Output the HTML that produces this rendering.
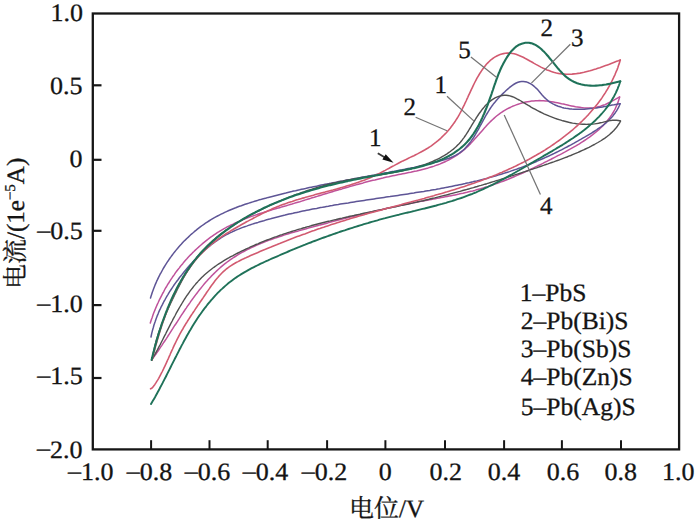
<!DOCTYPE html><html><head><meta charset="utf-8"><style>html,body{margin:0;padding:0;background:#fff;}svg{display:block;}text{font-family:"Liberation Serif",serif;fill:#141414;stroke:#141414;stroke-width:0.30px;text-rendering:geometricPrecision;}.cjk{font-family:"Liberation Serif","Noto Serif CJK SC",serif;}</style></head><body>
<svg width="700" height="524" viewBox="0 0 700 524">
<rect width="700" height="524" fill="#fff"/>
<path d="M150.3,323.0 L150.9,321.1 L151.5,319.2 L152.2,317.4 L152.8,315.5 L153.5,313.6 L154.2,311.8 L155.0,309.9 L155.7,308.1 L156.5,306.2 L157.3,304.4 L158.2,302.5 L159.0,300.7 L159.9,298.9 L160.8,297.1 L161.7,295.3 L162.6,293.5 L163.6,291.8 L164.5,290.0 L165.5,288.2 L166.6,286.5 L167.6,284.7 L168.7,283.0 L169.7,281.3 L170.8,279.6 L172.0,277.9 L173.1,276.2 L174.3,274.6 L175.4,272.9 L176.6,271.3 L177.8,269.7 L179.1,268.1 L180.3,266.5 L181.6,264.9 L182.9,263.4 L184.2,261.8 L185.5,260.3 L186.9,258.8 L188.2,257.3 L189.6,255.8 L191.0,254.4 L192.4,252.9 L193.9,251.5 L195.3,250.1 L196.8,248.7 L198.3,247.4 L199.8,246.0 L201.3,244.7 L202.8,243.4 L204.4,242.1 L205.9,240.9 L207.5,239.6 L209.1,238.4 L210.7,237.2 L212.3,236.1 L214.0,234.9 L215.6,233.8 L217.3,232.7 L219.0,231.7 L220.7,230.6 L222.4,229.6 L224.1,228.6 L225.9,227.7 L227.6,226.7 L229.4,225.8 L231.2,224.9 L233.0,224.1 L234.8,223.2 L236.6,222.4 L238.4,221.6 L240.3,220.8 L242.1,220.0 L244.0,219.3 L245.8,218.5 L247.7,217.8 L249.6,217.1 L251.5,216.4 L253.4,215.8 L255.3,215.1 L257.2,214.5 L259.1,213.8 L261.0,213.2 L263.0,212.6 L264.9,212.0 L266.8,211.4 L268.8,210.8 L270.7,210.2 L272.6,209.6 L274.6,209.1 L276.5,208.5 L278.5,207.9 L280.4,207.4 L282.4,206.8 L284.3,206.2 L286.2,205.7 L288.2,205.1 L290.1,204.5 L292.1,204.0 L294.0,203.4 L295.9,202.8 L297.8,202.2 L299.8,201.7 L301.7,201.1 L303.6,200.5 L305.5,199.9 L307.5,199.3 L309.4,198.7 L311.3,198.1 L313.2,197.6 L315.1,197.0 L317.1,196.4 L319.0,195.8 L320.9,195.2 L322.8,194.6 L324.7,194.0 L326.6,193.5 L328.6,192.9 L330.5,192.3 L332.4,191.7 L334.3,191.1 L336.2,190.6 L338.1,190.0 L340.0,189.4 L342.0,188.9 L343.9,188.3 L345.8,187.7 L347.7,187.2 L349.7,186.6 L351.6,186.1 L353.5,185.5 L355.4,185.0 L357.4,184.4 L359.3,183.9 L361.2,183.4 L363.2,182.9 L365.1,182.3 L367.1,181.8 L369.0,181.3 L371.0,180.8 L372.9,180.3 L374.9,179.9 L376.8,179.4 L378.8,178.9 L380.8,178.4 L382.8,178.0 L384.7,177.5 L386.7,177.1 L388.7,176.7 L390.7,176.2 L392.7,175.8 L394.7,175.4 L396.7,175.0 L398.7,174.6 L400.7,174.2 L402.7,173.8 L404.7,173.4 L406.7,173.0 L408.7,172.6 L410.7,172.2 L412.7,171.7 L414.7,171.3 L416.6,170.9 L418.6,170.4 L420.6,169.9 L422.5,169.4 L424.5,168.9 L426.4,168.4 L428.3,167.9 L430.3,167.3 L432.2,166.7 L434.1,166.1 L435.9,165.4 L437.8,164.8 L439.6,164.1 L441.5,163.3 L443.3,162.5 L445.1,161.7 L446.8,160.9 L448.6,160.0 L450.3,159.1 L452.0,158.2 L453.7,157.2 L455.4,156.1 L457.0,155.1 L458.6,154.0 L460.2,152.8 L461.8,151.6 L463.3,150.4 L464.8,149.1 L466.3,147.8 L467.8,146.4 L469.2,145.0 L470.6,143.6 L472.0,142.1 L473.4,140.6 L474.7,139.1 L476.1,137.6 L477.4,136.0 L478.8,134.5 L480.1,133.0 L481.5,131.4 L482.8,129.9 L484.2,128.3 L485.6,126.8 L486.9,125.3 L488.3,123.8 L489.8,122.3 L491.2,120.9 L492.7,119.5 L494.2,118.1 L495.7,116.8 L497.2,115.5 L498.8,114.3 L500.4,113.2 L502.1,112.0 L503.8,110.9 L505.5,109.9 L507.2,108.9 L509.0,108.0 L510.7,107.2 L512.5,106.3 L514.4,105.6 L516.2,104.9 L518.1,104.2 L520.0,103.6 L521.9,103.0 L523.8,102.5 L525.7,102.1 L527.7,101.7 L529.6,101.4 L531.6,101.1 L533.6,100.9 L535.6,100.8 L537.5,100.7 L539.5,100.6 L541.5,100.7 L543.5,100.8 L545.5,100.9 L547.5,101.1 L549.5,101.4 L551.5,101.7 L553.5,102.0 L555.5,102.4 L557.5,102.8 L559.5,103.2 L561.5,103.7 L563.5,104.1 L565.5,104.6 L567.5,105.0 L569.5,105.5 L571.5,105.9 L573.5,106.3 L575.5,106.7 L577.4,107.0 L579.4,107.3 L581.4,107.6 L583.4,107.8 L585.4,107.9 L587.3,107.9 L589.3,107.9 L591.3,107.9 L593.2,107.7 L595.2,107.4 L597.2,107.1 L599.1,106.6 L601.1,106.0 L603.0,105.3 L605.0,104.6 L606.9,103.7 L608.8,102.8 L610.7,101.9 L612.5,100.9 L614.3,99.9 L616.1,98.9 L617.9,97.9 L619.6,97.0" fill="none" stroke="#bf529b" stroke-width="1.5" stroke-linejoin="round" stroke-linecap="round"/>
<path d="M619.6,97.0 L619.1,99.0 L618.4,101.0 L617.8,102.9 L617.0,104.7 L616.2,106.5 L615.4,108.3 L614.5,110.1 L613.5,111.8 L612.5,113.5 L611.5,115.1 L610.4,116.7 L609.3,118.3 L608.1,119.8 L606.9,121.3 L605.6,122.8 L604.3,124.2 L603.0,125.6 L601.6,127.0 L600.2,128.3 L598.8,129.7 L597.3,131.0 L595.8,132.2 L594.2,133.5 L592.7,134.7 L591.1,135.9 L589.5,137.1 L587.9,138.2 L586.2,139.4 L584.5,140.5 L582.8,141.6 L581.1,142.7 L579.4,143.8 L577.6,144.8 L575.9,145.9 L574.1,146.9 L572.3,147.9 L570.5,148.9 L568.7,149.9 L566.9,150.9 L565.1,151.9 L563.3,152.8 L561.5,153.8 L559.6,154.8 L557.8,155.7 L556.0,156.7 L554.2,157.6 L552.4,158.5 L550.6,159.5 L548.7,160.4 L546.9,161.3 L545.1,162.2 L543.3,163.2 L541.5,164.1 L539.7,165.0 L537.8,165.8 L536.0,166.7 L534.2,167.6 L532.4,168.5 L530.6,169.3 L528.8,170.2 L526.9,171.0 L525.1,171.9 L523.3,172.7 L521.5,173.5 L519.6,174.3 L517.8,175.1 L516.0,175.9 L514.1,176.7 L512.3,177.5 L510.5,178.2 L508.6,179.0 L506.8,179.7 L504.9,180.5 L503.1,181.2 L501.2,181.9 L499.3,182.6 L497.5,183.2 L495.6,183.9 L493.7,184.6 L491.8,185.2 L489.9,185.8 L488.1,186.5 L486.2,187.1 L484.3,187.6 L482.3,188.2 L480.4,188.8 L478.5,189.3 L476.6,189.8 L474.7,190.4 L472.7,190.9 L470.8,191.3 L468.8,191.8 L466.9,192.3 L464.9,192.7 L463.0,193.2 L461.0,193.6 L459.0,194.1 L457.1,194.5 L455.1,194.9 L453.1,195.3 L451.1,195.7 L449.2,196.1 L447.2,196.5 L445.2,196.8 L443.2,197.2 L441.2,197.6 L439.3,198.0 L437.3,198.3 L435.3,198.7 L433.3,199.1 L431.3,199.4 L429.3,199.8 L427.3,200.2 L425.4,200.5 L423.4,200.9 L421.4,201.3 L419.4,201.6 L417.5,202.0 L415.5,202.4 L413.5,202.8 L411.6,203.2 L409.6,203.6 L407.6,204.0 L405.7,204.4 L403.7,204.8 L401.7,205.2 L399.8,205.6 L397.8,206.0 L395.9,206.4 L393.9,206.8 L392.0,207.3 L390.0,207.7 L388.1,208.1 L386.1,208.5 L384.2,209.0 L382.2,209.4 L380.3,209.9 L378.3,210.3 L376.4,210.8 L374.5,211.2 L372.5,211.7 L370.6,212.1 L368.6,212.6 L366.7,213.0 L364.8,213.5 L362.8,214.0 L360.9,214.4 L358.9,214.9 L357.0,215.4 L355.0,215.9 L353.1,216.4 L351.2,216.8 L349.2,217.3 L347.3,217.8 L345.3,218.3 L343.4,218.8 L341.5,219.3 L339.5,219.8 L337.6,220.3 L335.6,220.8 L333.7,221.3 L331.7,221.8 L329.8,222.3 L327.8,222.9 L325.9,223.4 L323.9,223.9 L322.0,224.4 L320.0,224.9 L318.1,225.5 L316.1,226.0 L314.1,226.5 L312.2,227.1 L310.2,227.6 L308.3,228.1 L306.3,228.7 L304.3,229.2 L302.4,229.8 L300.4,230.3 L298.4,230.9 L296.5,231.4 L294.5,232.0 L292.5,232.6 L290.6,233.1 L288.6,233.7 L286.7,234.3 L284.7,234.9 L282.8,235.5 L280.8,236.2 L278.9,236.8 L277.0,237.5 L275.1,238.1 L273.1,238.8 L271.2,239.5 L269.3,240.1 L267.4,240.8 L265.5,241.6 L263.7,242.3 L261.8,243.1 L260.0,243.8 L258.1,244.6 L256.3,245.4 L254.4,246.2 L252.6,247.0 L250.8,247.9 L249.1,248.8 L247.3,249.6 L245.5,250.6 L243.8,251.5 L242.0,252.4 L240.3,253.4 L238.6,254.4 L237.0,255.4 L235.3,256.5 L233.6,257.5 L232.0,258.6 L230.4,259.7 L228.8,260.8 L227.2,262.0 L225.7,263.2 L224.1,264.4 L222.6,265.6 L221.1,266.9 L219.6,268.2 L218.2,269.5 L216.7,270.9 L215.3,272.2 L213.9,273.6 L212.5,275.0 L211.1,276.4 L209.7,277.9 L208.4,279.3 L207.1,280.8 L205.7,282.3 L204.4,283.8 L203.1,285.4 L201.9,286.9 L200.6,288.5 L199.3,290.0 L198.1,291.6 L196.9,293.2 L195.6,294.9 L194.4,296.5 L193.2,298.1 L192.0,299.8 L190.8,301.4 L189.7,303.1 L188.5,304.8 L187.3,306.4 L186.2,308.1 L185.0,309.8 L183.9,311.5 L182.8,313.2 L181.6,314.9 L180.5,316.6 L179.4,318.4 L178.3,320.1 L177.2,321.8 L176.1,323.5 L174.9,325.2 L173.8,326.9 L172.7,328.7 L171.6,330.4 L170.5,332.1 L169.4,333.8 L168.3,335.5 L167.3,337.2 L166.2,338.9 L165.1,340.5 L163.9,342.2 L162.8,343.9 L161.7,345.6 L160.6,347.2 L159.5,348.8 L158.4,350.5 L157.3,352.1 L156.2,353.7 L155.0,355.3 L153.9,356.9 L152.8,358.4 L151.6,360.0" fill="none" stroke="#bf529b" stroke-width="1.5" stroke-linejoin="round" stroke-linecap="round"/>
<path d="M150.5,298.0 L151.1,296.1 L151.7,294.2 L152.3,292.3 L153.0,290.5 L153.7,288.6 L154.4,286.8 L155.1,284.9 L155.9,283.1 L156.7,281.2 L157.6,279.4 L158.4,277.6 L159.3,275.8 L160.2,274.0 L161.2,272.3 L162.2,270.5 L163.2,268.7 L164.2,267.0 L165.2,265.3 L166.3,263.6 L167.4,261.9 L168.6,260.2 L169.7,258.5 L170.9,256.9 L172.1,255.2 L173.3,253.6 L174.6,252.0 L175.9,250.4 L177.1,248.9 L178.5,247.3 L179.8,245.8 L181.2,244.3 L182.5,242.8 L183.9,241.3 L185.4,239.9 L186.8,238.5 L188.3,237.1 L189.7,235.7 L191.2,234.3 L192.8,233.0 L194.3,231.7 L195.9,230.4 L197.4,229.1 L199.0,227.9 L200.6,226.7 L202.2,225.5 L203.9,224.3 L205.5,223.2 L207.2,222.1 L208.9,221.0 L210.6,219.9 L212.3,218.9 L214.0,217.9 L215.8,216.9 L217.5,216.0 L219.3,215.1 L221.1,214.2 L222.9,213.3 L224.7,212.4 L226.5,211.6 L228.3,210.8 L230.1,210.0 L232.0,209.2 L233.8,208.5 L235.7,207.8 L237.5,207.0 L239.4,206.3 L241.3,205.7 L243.2,205.0 L245.1,204.3 L247.0,203.7 L248.9,203.1 L250.8,202.5 L252.8,201.9 L254.7,201.3 L256.6,200.7 L258.5,200.1 L260.5,199.6 L262.4,199.0 L264.4,198.5 L266.3,198.0 L268.3,197.4 L270.2,196.9 L272.2,196.4 L274.1,195.9 L276.1,195.4 L278.0,194.9 L280.0,194.4 L281.9,193.9 L283.9,193.4 L285.8,193.0 L287.8,192.5 L289.8,192.0 L291.7,191.6 L293.7,191.1 L295.6,190.7 L297.6,190.2 L299.6,189.8 L301.5,189.3 L303.5,188.9 L305.5,188.5 L307.4,188.0 L309.4,187.6 L311.4,187.2 L313.3,186.8 L315.3,186.4 L317.3,186.0 L319.2,185.5 L321.2,185.1 L323.2,184.7 L325.1,184.3 L327.1,183.9 L329.1,183.6 L331.1,183.2 L333.0,182.8 L335.0,182.4 L337.0,182.0 L338.9,181.6 L340.9,181.2 L342.9,180.9 L344.9,180.5 L346.8,180.1 L348.8,179.7 L350.8,179.4 L352.8,179.0 L354.7,178.6 L356.7,178.3 L358.7,177.9 L360.7,177.5 L362.6,177.1 L364.6,176.8 L366.6,176.4 L368.6,176.0 L370.5,175.7 L372.5,175.3 L374.5,175.0 L376.5,174.6 L378.4,174.2 L380.4,173.9 L382.4,173.5 L384.4,173.1 L386.3,172.7 L388.3,172.4 L390.3,172.0 L392.3,171.6 L394.2,171.3 L396.2,170.9 L398.2,170.5 L400.1,170.1 L402.1,169.8 L404.1,169.4 L406.1,169.0 L408.0,168.6 L410.0,168.2 L412.0,167.8 L413.9,167.4 L415.9,166.9 L417.9,166.5 L419.8,166.1 L421.8,165.6 L423.8,165.2 L425.7,164.7 L427.7,164.2 L429.6,163.8 L431.6,163.3 L433.6,162.8 L435.5,162.2 L437.5,161.7 L439.4,161.2 L441.4,160.6 L443.3,160.1 L445.2,159.5 L447.2,158.8 L449.1,158.2 L450.9,157.5 L452.7,156.7 L454.5,155.8 L456.3,154.9 L458.0,154.0 L459.6,152.9 L461.2,151.7 L462.7,150.5 L464.2,149.2 L465.6,147.8 L466.9,146.3 L468.2,144.8 L469.5,143.2 L470.7,141.6 L471.9,139.9 L473.1,138.2 L474.2,136.5 L475.3,134.7 L476.3,132.9 L477.3,131.1 L478.4,129.3 L479.4,127.5 L480.3,125.7 L481.3,124.0 L482.3,122.2 L483.2,120.4 L484.2,118.7 L485.1,116.9 L486.1,115.2 L487.1,113.5 L488.1,111.8 L489.2,110.1 L490.2,108.5 L491.3,106.9 L492.5,105.3 L493.6,103.7 L494.9,102.2 L496.1,100.7 L497.4,99.2 L498.8,97.8 L500.2,96.3 L501.6,94.9 L503.1,93.4 L504.6,92.0 L506.1,90.5 L507.7,89.1 L509.3,87.7 L511.0,86.3 L512.7,85.1 L514.4,84.0 L516.2,83.0 L518.0,82.3 L519.8,81.7 L521.5,81.5 L523.3,81.5 L525.1,81.7 L526.9,82.1 L528.6,82.8 L530.3,83.7 L532.0,84.7 L533.6,85.9 L535.1,87.2 L536.6,88.6 L538.0,90.1 L539.4,91.7 L540.7,93.3 L542.1,94.9 L543.5,96.4 L544.9,97.9 L546.4,99.3 L547.9,100.6 L549.5,101.8 L551.2,102.8 L552.9,103.8 L554.6,104.7 L556.4,105.5 L558.2,106.2 L560.1,106.8 L562.0,107.4 L563.9,107.9 L565.9,108.3 L567.9,108.6 L569.9,108.9 L571.9,109.1 L574.0,109.2 L576.0,109.3 L578.1,109.3 L580.2,109.3 L582.2,109.3 L584.3,109.2 L586.4,109.0 L588.5,108.8 L590.5,108.6 L592.6,108.4 L594.6,108.1 L596.6,107.9 L598.6,107.5 L600.6,107.2 L602.5,106.9 L604.4,106.5 L606.3,106.2 L608.2,105.8 L610.1,105.5 L612.1,105.1 L614.0,104.8 L616.0,104.4 L618.0,104.1 L620.1,103.8" fill="none" stroke="#5e5596" stroke-width="1.5" stroke-linejoin="round" stroke-linecap="round"/>
<path d="M620.1,103.8 L619.3,105.7 L618.4,107.6 L617.4,109.4 L616.4,111.1 L615.3,112.7 L614.1,114.3 L612.9,115.9 L611.7,117.3 L610.3,118.8 L608.9,120.2 L607.5,121.5 L606.1,122.8 L604.6,124.0 L603.0,125.3 L601.4,126.5 L599.8,127.6 L598.2,128.7 L596.6,129.9 L594.9,130.9 L593.2,132.0 L591.5,133.1 L589.8,134.1 L588.1,135.1 L586.3,136.2 L584.6,137.2 L582.8,138.2 L581.1,139.2 L579.3,140.2 L577.6,141.2 L575.8,142.2 L574.1,143.2 L572.3,144.1 L570.5,145.1 L568.7,146.0 L566.9,147.0 L565.1,147.9 L563.3,148.8 L561.5,149.8 L559.7,150.7 L557.9,151.6 L556.1,152.5 L554.3,153.4 L552.5,154.2 L550.6,155.1 L548.8,156.0 L547.0,156.8 L545.1,157.6 L543.3,158.5 L541.4,159.3 L539.6,160.1 L537.7,160.9 L535.9,161.7 L534.0,162.5 L532.1,163.2 L530.3,164.0 L528.4,164.7 L526.5,165.5 L524.6,166.2 L522.8,166.9 L520.9,167.6 L519.0,168.3 L517.1,169.0 L515.2,169.6 L513.3,170.3 L511.4,170.9 L509.5,171.6 L507.6,172.2 L505.7,172.8 L503.8,173.4 L501.9,174.0 L500.0,174.6 L498.0,175.1 L496.1,175.7 L494.2,176.3 L492.3,176.8 L490.4,177.3 L488.4,177.9 L486.5,178.4 L484.6,178.9 L482.6,179.4 L480.7,179.9 L478.8,180.4 L476.8,180.9 L474.9,181.3 L472.9,181.8 L471.0,182.2 L469.0,182.7 L467.1,183.1 L465.1,183.6 L463.2,184.0 L461.2,184.4 L459.3,184.8 L457.3,185.2 L455.4,185.6 L453.4,186.0 L451.4,186.4 L449.5,186.8 L447.5,187.2 L445.5,187.6 L443.6,187.9 L441.6,188.3 L439.6,188.7 L437.7,189.0 L435.7,189.4 L433.7,189.7 L431.7,190.0 L429.8,190.4 L427.8,190.7 L425.8,191.0 L423.8,191.4 L421.8,191.7 L419.9,192.0 L417.9,192.3 L415.9,192.6 L413.9,193.0 L411.9,193.3 L409.9,193.6 L408.0,193.9 L406.0,194.2 L404.0,194.5 L402.0,194.8 L400.0,195.1 L398.0,195.4 L396.0,195.7 L394.0,196.0 L392.0,196.3 L390.1,196.6 L388.1,196.8 L386.1,197.1 L384.1,197.4 L382.1,197.7 L380.1,198.0 L378.1,198.3 L376.1,198.6 L374.1,198.9 L372.1,199.2 L370.2,199.5 L368.2,199.8 L366.2,200.1 L364.2,200.4 L362.2,200.7 L360.2,201.0 L358.2,201.3 L356.2,201.6 L354.2,201.9 L352.2,202.2 L350.3,202.5 L348.3,202.9 L346.3,203.2 L344.3,203.5 L342.3,203.8 L340.3,204.1 L338.3,204.5 L336.4,204.8 L334.4,205.1 L332.4,205.5 L330.4,205.8 L328.4,206.2 L326.4,206.5 L324.5,206.9 L322.5,207.3 L320.5,207.6 L318.5,208.0 L316.6,208.4 L314.6,208.7 L312.6,209.1 L310.6,209.5 L308.7,209.9 L306.7,210.3 L304.7,210.7 L302.8,211.1 L300.8,211.5 L298.8,212.0 L296.9,212.4 L294.9,212.8 L293.0,213.3 L291.0,213.7 L289.0,214.1 L287.1,214.6 L285.1,215.1 L283.2,215.5 L281.2,216.0 L279.3,216.5 L277.4,217.0 L275.4,217.5 L273.5,218.0 L271.5,218.5 L269.6,219.1 L267.7,219.6 L265.7,220.1 L263.8,220.7 L261.9,221.2 L259.9,221.8 L258.0,222.4 L256.1,222.9 L254.2,223.5 L252.3,224.1 L250.4,224.8 L248.5,225.4 L246.6,226.1 L244.7,226.7 L242.8,227.4 L240.9,228.1 L239.1,228.9 L237.2,229.6 L235.4,230.4 L233.6,231.2 L231.8,232.1 L230.0,232.9 L228.2,233.8 L226.5,234.7 L224.7,235.7 L223.0,236.7 L221.3,237.7 L219.6,238.8 L218.0,239.9 L216.3,241.0 L214.7,242.1 L213.1,243.3 L211.5,244.5 L209.9,245.8 L208.3,247.1 L206.8,248.4 L205.3,249.7 L203.8,251.0 L202.3,252.4 L200.8,253.8 L199.3,255.2 L197.9,256.6 L196.5,258.1 L195.0,259.6 L193.6,261.0 L192.3,262.5 L190.9,264.0 L189.5,265.6 L188.2,267.1 L186.9,268.6 L185.5,270.2 L184.2,271.7 L183.0,273.3 L181.7,274.9 L180.4,276.4 L179.2,278.0 L178.0,279.7 L176.8,281.3 L175.6,282.9 L174.4,284.5 L173.3,286.2 L172.2,287.8 L171.1,289.5 L170.0,291.2 L168.9,292.9 L167.9,294.6 L166.8,296.3 L165.9,298.0 L164.9,299.8 L163.9,301.5 L163.0,303.3 L162.1,305.1 L161.2,306.8 L160.4,308.6 L159.5,310.4 L158.7,312.3 L158.0,314.1 L157.2,315.9 L156.5,317.8 L155.8,319.7 L155.2,321.5 L154.5,323.4 L153.9,325.3 L153.4,327.2 L152.8,329.2 L152.3,331.1 L151.8,333.1 L151.4,335.0 L151.0,337.0" fill="none" stroke="#5e5596" stroke-width="1.5" stroke-linejoin="round" stroke-linecap="round"/>
<path d="M152.2,359.4 L152.5,357.3 L152.9,355.3 L153.2,353.3 L153.6,351.3 L154.1,349.3 L154.5,347.3 L155.0,345.3 L155.5,343.4 L156.0,341.5 L156.5,339.5 L157.1,337.6 L157.7,335.7 L158.3,333.8 L158.9,331.9 L159.6,330.0 L160.2,328.2 L160.9,326.3 L161.6,324.5 L162.3,322.6 L163.0,320.8 L163.8,318.9 L164.5,317.1 L165.3,315.3 L166.1,313.5 L166.9,311.6 L167.7,309.8 L168.5,308.0 L169.3,306.2 L170.2,304.3 L171.0,302.5 L171.9,300.7 L172.7,298.9 L173.6,297.1 L174.5,295.2 L175.4,293.4 L176.3,291.6 L177.2,289.8 L178.1,287.9 L179.1,286.1 L180.0,284.3 L181.0,282.5 L181.9,280.7 L182.9,278.9 L183.9,277.2 L184.9,275.4 L186.0,273.6 L187.0,271.9 L188.1,270.2 L189.2,268.5 L190.3,266.8 L191.4,265.1 L192.5,263.4 L193.7,261.8 L194.9,260.1 L196.1,258.5 L197.3,256.9 L198.6,255.4 L199.8,253.8 L201.1,252.3 L202.5,250.8 L203.8,249.4 L205.2,247.9 L206.6,246.5 L208.0,245.1 L209.4,243.7 L210.9,242.4 L212.3,241.0 L213.8,239.7 L215.4,238.4 L216.9,237.1 L218.4,235.9 L220.0,234.6 L221.6,233.4 L223.2,232.2 L224.8,231.0 L226.4,229.9 L228.1,228.7 L229.7,227.6 L231.4,226.5 L233.1,225.4 L234.8,224.3 L236.5,223.2 L238.2,222.2 L239.9,221.1 L241.6,220.1 L243.4,219.1 L245.1,218.1 L246.9,217.1 L248.6,216.1 L250.4,215.1 L252.2,214.2 L254.0,213.2 L255.8,212.3 L257.6,211.4 L259.4,210.5 L261.2,209.6 L263.0,208.7 L264.8,207.8 L266.6,206.9 L268.4,206.1 L270.3,205.2 L272.1,204.4 L273.9,203.6 L275.8,202.7 L277.6,201.9 L279.4,201.1 L281.3,200.3 L283.2,199.6 L285.0,198.8 L286.9,198.1 L288.8,197.3 L290.6,196.6 L292.5,195.9 L294.4,195.1 L296.3,194.4 L298.2,193.8 L300.1,193.1 L301.9,192.4 L303.8,191.8 L305.8,191.1 L307.7,190.5 L309.6,189.9 L311.5,189.3 L313.4,188.7 L315.3,188.1 L317.3,187.5 L319.2,186.9 L321.1,186.4 L323.1,185.8 L325.0,185.3 L326.9,184.8 L328.9,184.3 L330.8,183.8 L332.8,183.3 L334.7,182.8 L336.7,182.4 L338.7,181.9 L340.6,181.5 L342.6,181.1 L344.6,180.7 L346.5,180.3 L348.5,179.9 L350.5,179.5 L352.5,179.1 L354.5,178.8 L356.4,178.4 L358.4,178.1 L360.4,177.8 L362.4,177.4 L364.4,177.1 L366.4,176.8 L368.4,176.5 L370.4,176.2 L372.4,175.9 L374.4,175.6 L376.4,175.3 L378.4,175.0 L380.4,174.7 L382.3,174.3 L384.3,174.0 L386.3,173.7 L388.3,173.4 L390.3,173.0 L392.3,172.7 L394.2,172.3 L396.2,172.0 L398.2,171.6 L400.2,171.2 L402.1,170.8 L404.1,170.3 L406.0,169.9 L408.0,169.4 L409.9,168.9 L411.9,168.4 L413.8,167.9 L415.7,167.4 L417.6,166.8 L419.6,166.2 L421.5,165.6 L423.4,165.0 L425.3,164.3 L427.2,163.6 L429.0,162.9 L430.9,162.1 L432.8,161.3 L434.6,160.5 L436.4,159.7 L438.3,158.8 L440.1,157.9 L441.8,156.9 L443.6,155.9 L445.3,154.9 L447.0,153.8 L448.6,152.7 L450.3,151.5 L451.8,150.3 L453.4,149.1 L454.9,147.8 L456.3,146.5 L457.7,145.1 L459.1,143.7 L460.4,142.3 L461.6,140.8 L462.8,139.2 L464.0,137.6 L465.1,136.0 L466.2,134.4 L467.3,132.7 L468.4,131.0 L469.4,129.2 L470.5,127.5 L471.5,125.7 L472.6,123.9 L473.7,122.1 L474.8,120.3 L475.9,118.5 L477.1,116.7 L478.2,115.0 L479.4,113.2 L480.7,111.5 L481.9,109.8 L483.2,108.2 L484.6,106.6 L486.0,105.1 L487.4,103.7 L488.8,102.3 L490.3,101.1 L491.9,99.9 L493.5,98.9 L495.1,97.9 L496.8,97.1 L498.6,96.5 L500.4,95.9 L502.2,95.5 L504.1,95.3 L506.1,95.3 L508.0,95.5 L509.9,95.9 L511.8,96.5 L513.7,97.2 L515.6,98.1 L517.4,99.1 L519.2,100.0 L521.0,101.0 L522.7,102.1 L524.5,103.1 L526.2,104.2 L527.9,105.2 L529.7,106.2 L531.4,107.3 L533.2,108.3 L534.9,109.2 L536.7,110.2 L538.5,111.1 L540.3,112.0 L542.1,112.9 L544.0,113.8 L545.8,114.6 L547.7,115.4 L549.5,116.2 L551.4,116.9 L553.3,117.6 L555.2,118.3 L557.1,119.0 L559.0,119.6 L560.9,120.2 L562.8,120.8 L564.8,121.3 L566.7,121.8 L568.7,122.3 L570.6,122.7 L572.6,123.1 L574.6,123.4 L576.6,123.7 L578.5,123.9 L580.5,124.1 L582.5,124.2 L584.5,124.3 L586.5,124.4 L588.5,124.3 L590.5,124.2 L592.5,124.1 L594.5,123.9 L596.5,123.6 L598.5,123.3 L600.5,122.8 L602.5,122.4 L604.5,121.9 L606.4,121.4 L608.4,120.9 L610.4,120.6 L612.4,120.3 L614.4,120.2 L616.4,120.2 L618.4,120.5 L620.4,121.0" fill="none" stroke="#505050" stroke-width="1.4" stroke-linejoin="round" stroke-linecap="round"/>
<path d="M620.6,121.0 L619.6,122.8 L618.5,124.5 L617.4,126.2 L616.2,127.7 L614.9,129.2 L613.6,130.7 L612.2,132.1 L610.7,133.4 L609.3,134.7 L607.7,136.0 L606.2,137.2 L604.6,138.3 L602.9,139.4 L601.3,140.5 L599.6,141.5 L597.9,142.5 L596.1,143.5 L594.4,144.5 L592.6,145.4 L590.8,146.4 L589.0,147.3 L587.3,148.1 L585.4,149.0 L583.6,149.9 L581.8,150.7 L580.0,151.5 L578.1,152.4 L576.3,153.1 L574.4,153.9 L572.6,154.7 L570.7,155.5 L568.8,156.2 L566.9,157.0 L565.1,157.7 L563.2,158.4 L561.3,159.1 L559.4,159.8 L557.5,160.5 L555.6,161.2 L553.7,161.9 L551.8,162.5 L549.9,163.2 L547.9,163.9 L546.0,164.5 L544.1,165.2 L542.2,165.8 L540.3,166.5 L538.4,167.1 L536.5,167.8 L534.5,168.4 L532.6,169.1 L530.7,169.7 L528.8,170.3 L526.9,171.0 L525.0,171.6 L523.1,172.2 L521.2,172.8 L519.3,173.5 L517.4,174.1 L515.4,174.7 L513.5,175.3 L511.6,175.9 L509.7,176.6 L507.8,177.2 L505.9,177.8 L504.0,178.4 L502.1,179.0 L500.2,179.6 L498.3,180.2 L496.3,180.7 L494.4,181.3 L492.5,181.9 L490.6,182.5 L488.7,183.1 L486.8,183.7 L484.9,184.2 L482.9,184.8 L481.0,185.4 L479.1,185.9 L477.2,186.5 L475.3,187.0 L473.4,187.6 L471.4,188.1 L469.5,188.7 L467.6,189.2 L465.7,189.8 L463.7,190.3 L461.8,190.8 L459.9,191.4 L458.0,191.9 L456.0,192.4 L454.1,192.9 L452.2,193.4 L450.2,193.9 L448.3,194.5 L446.4,195.0 L444.4,195.4 L442.5,195.9 L440.5,196.4 L438.6,196.9 L436.7,197.4 L434.7,197.9 L432.8,198.3 L430.8,198.8 L428.9,199.3 L426.9,199.7 L424.9,200.2 L423.0,200.7 L421.0,201.1 L419.1,201.5 L417.1,202.0 L415.1,202.4 L413.2,202.9 L411.2,203.3 L409.2,203.7 L407.3,204.2 L405.3,204.6 L403.3,205.0 L401.4,205.4 L399.4,205.8 L397.4,206.3 L395.4,206.7 L393.5,207.1 L391.5,207.5 L389.5,207.9 L387.5,208.3 L385.6,208.8 L383.6,209.2 L381.6,209.6 L379.6,210.0 L377.6,210.4 L375.7,210.8 L373.7,211.2 L371.7,211.7 L369.7,212.1 L367.8,212.5 L365.8,212.9 L363.8,213.3 L361.8,213.7 L359.9,214.2 L357.9,214.6 L355.9,215.0 L353.9,215.5 L352.0,215.9 L350.0,216.3 L348.0,216.8 L346.1,217.2 L344.1,217.6 L342.1,218.1 L340.2,218.5 L338.2,219.0 L336.2,219.5 L334.3,219.9 L332.3,220.4 L330.3,220.9 L328.4,221.3 L326.4,221.8 L324.5,222.3 L322.5,222.8 L320.6,223.3 L318.6,223.8 L316.7,224.3 L314.7,224.8 L312.8,225.3 L310.9,225.8 L308.9,226.4 L307.0,226.9 L305.1,227.5 L303.1,228.0 L301.2,228.6 L299.3,229.1 L297.4,229.7 L295.5,230.3 L293.5,230.9 L291.6,231.5 L289.7,232.1 L287.8,232.7 L285.9,233.3 L284.0,233.9 L282.1,234.6 L280.2,235.2 L278.4,235.9 L276.5,236.6 L274.6,237.2 L272.7,237.9 L270.9,238.6 L269.0,239.3 L267.1,240.0 L265.3,240.7 L263.4,241.5 L261.6,242.2 L259.7,243.0 L257.9,243.8 L256.0,244.5 L254.2,245.3 L252.4,246.1 L250.5,246.9 L248.7,247.8 L246.9,248.6 L245.1,249.5 L243.3,250.3 L241.5,251.2 L239.7,252.1 L237.9,253.0 L236.1,253.9 L234.3,254.8 L232.6,255.8 L230.8,256.7 L229.1,257.7 L227.3,258.7 L225.6,259.7 L223.9,260.7 L222.1,261.8 L220.5,262.8 L218.8,263.9 L217.1,265.0 L215.5,266.2 L213.9,267.3 L212.3,268.5 L210.7,269.7 L209.1,271.0 L207.6,272.2 L206.1,273.5 L204.6,274.8 L203.1,276.2 L201.7,277.5 L200.3,278.9 L198.9,280.4 L197.6,281.9 L196.3,283.3 L195.0,284.9 L193.7,286.4 L192.5,288.0 L191.2,289.6 L190.0,291.2 L188.9,292.8 L187.7,294.5 L186.5,296.1 L185.4,297.8 L184.3,299.5 L183.2,301.3 L182.2,303.0 L181.1,304.8 L180.1,306.5 L179.0,308.3 L178.0,310.1 L177.0,311.9 L176.0,313.7 L175.1,315.5 L174.1,317.3 L173.1,319.1 L172.2,321.0 L171.2,322.8 L170.3,324.6 L169.4,326.4 L168.4,328.3 L167.5,330.1 L166.6,331.9 L165.7,333.8 L164.7,335.6 L163.8,337.4 L162.9,339.2 L162.0,341.0 L161.1,342.8 L160.2,344.6 L159.2,346.3 L158.3,348.1 L157.4,349.9 L156.4,351.6 L155.5,353.3 L154.5,355.0 L153.6,356.7 L152.6,358.4 L151.6,360.0" fill="none" stroke="#505050" stroke-width="1.4" stroke-linejoin="round" stroke-linecap="round"/>
<path d="M152.0,360.2 L152.5,358.3 L152.9,356.4 L153.4,354.6 L153.9,352.7 L154.4,350.8 L154.9,348.9 L155.4,346.9 L155.9,345.0 L156.5,343.1 L157.0,341.2 L157.6,339.3 L158.1,337.3 L158.7,335.4 L159.3,333.5 L159.9,331.5 L160.5,329.6 L161.1,327.7 L161.7,325.8 L162.4,323.8 L163.0,321.9 L163.7,320.0 L164.4,318.1 L165.1,316.1 L165.8,314.2 L166.5,312.3 L167.2,310.4 L168.0,308.5 L168.7,306.6 L169.5,304.7 L170.3,302.9 L171.1,301.0 L172.0,299.1 L172.8,297.3 L173.6,295.4 L174.5,293.6 L175.4,291.8 L176.3,290.0 L177.2,288.2 L178.2,286.4 L179.1,284.6 L180.1,282.8 L181.1,281.1 L182.1,279.3 L183.2,277.6 L184.2,275.9 L185.3,274.2 L186.4,272.5 L187.5,270.9 L188.6,269.2 L189.8,267.6 L190.9,266.0 L192.1,264.4 L193.3,262.8 L194.6,261.3 L195.8,259.8 L197.1,258.3 L198.4,256.8 L199.7,255.3 L201.1,253.9 L202.5,252.4 L203.9,251.1 L205.3,249.7 L206.7,248.3 L208.2,247.0 L209.7,245.7 L211.2,244.4 L212.7,243.2 L214.3,242.0 L215.9,240.8 L217.5,239.6 L219.1,238.4 L220.7,237.3 L222.4,236.2 L224.0,235.1 L225.7,234.0 L227.4,232.9 L229.1,231.9 L230.8,230.8 L232.6,229.8 L234.3,228.8 L236.1,227.7 L237.8,226.7 L239.6,225.8 L241.3,224.8 L243.1,223.8 L244.9,222.8 L246.6,221.8 L248.4,220.9 L250.2,219.9 L252.0,219.0 L253.7,218.0 L255.5,217.1 L257.3,216.1 L259.1,215.2 L260.9,214.3 L262.7,213.4 L264.5,212.5 L266.3,211.7 L268.1,210.8 L269.9,210.0 L271.7,209.1 L273.5,208.3 L275.4,207.6 L277.2,206.8 L279.1,206.1 L280.9,205.3 L282.8,204.6 L284.7,203.9 L286.6,203.3 L288.5,202.6 L290.3,202.0 L292.2,201.4 L294.2,200.7 L296.1,200.1 L298.0,199.6 L299.9,199.0 L301.8,198.4 L303.8,197.9 L305.7,197.3 L307.6,196.8 L309.6,196.2 L311.5,195.7 L313.4,195.2 L315.4,194.6 L317.3,194.1 L319.3,193.6 L321.2,193.1 L323.2,192.6 L325.1,192.1 L327.0,191.5 L329.0,191.0 L330.9,190.5 L332.9,190.0 L334.8,189.4 L336.7,188.9 L338.7,188.4 L340.6,187.8 L342.5,187.3 L344.5,186.7 L346.4,186.1 L348.3,185.5 L350.2,184.9 L352.1,184.3 L354.0,183.7 L355.9,183.1 L357.8,182.4 L359.7,181.8 L361.5,181.1 L363.4,180.4 L365.3,179.7 L367.1,178.9 L369.0,178.2 L370.8,177.4 L372.6,176.6 L374.4,175.8 L376.2,174.9 L378.0,174.1 L379.8,173.2 L381.6,172.2 L383.4,171.3 L385.2,170.4 L386.9,169.4 L388.7,168.5 L390.4,167.5 L392.2,166.5 L394.0,165.6 L395.8,164.6 L397.5,163.7 L399.3,162.7 L401.1,161.8 L402.9,160.9 L404.8,160.1 L406.6,159.2 L408.4,158.3 L410.2,157.4 L412.1,156.5 L413.9,155.7 L415.7,154.8 L417.5,153.9 L419.3,152.9 L421.0,152.0 L422.8,151.0 L424.6,150.0 L426.3,149.0 L428.0,148.0 L429.7,146.9 L431.3,145.8 L432.9,144.6 L434.5,143.4 L436.1,142.2 L437.7,140.9 L439.2,139.6 L440.7,138.3 L442.1,136.9 L443.5,135.5 L444.9,134.1 L446.3,132.7 L447.6,131.2 L448.9,129.7 L450.2,128.2 L451.4,126.6 L452.6,125.0 L453.7,123.4 L454.9,121.8 L455.9,120.2 L457.0,118.5 L458.0,116.9 L459.0,115.2 L459.9,113.5 L460.9,111.7 L461.8,110.0 L462.6,108.2 L463.5,106.4 L464.4,104.6 L465.2,102.8 L466.1,101.0 L466.9,99.2 L467.8,97.3 L468.6,95.4 L469.5,93.6 L470.4,91.7 L471.3,89.7 L472.2,87.8 L473.1,85.9 L474.0,84.0 L475.0,82.0 L476.0,80.1 L477.0,78.2 L478.1,76.3 L479.2,74.5 L480.3,72.7 L481.5,70.9 L482.6,69.2 L483.9,67.5 L485.1,65.9 L486.4,64.3 L487.8,62.9 L489.2,61.5 L490.6,60.2 L492.1,59.0 L493.6,57.9 L495.2,56.9 L496.8,56.0 L498.4,55.2 L500.1,54.6 L501.8,54.0 L503.5,53.6 L505.3,53.3 L507.1,53.1 L508.8,53.1 L510.6,53.2 L512.4,53.5 L514.2,53.8 L516.0,54.3 L517.8,55.0 L519.6,55.7 L521.4,56.5 L523.2,57.3 L525.0,58.3 L526.8,59.2 L528.6,60.2 L530.4,61.3 L532.3,62.3 L534.1,63.4 L535.9,64.4 L537.8,65.4 L539.6,66.4 L541.4,67.4 L543.3,68.3 L545.1,69.1 L547.0,69.9 L548.9,70.6 L550.7,71.3 L552.6,71.9 L554.5,72.5 L556.4,73.0 L558.3,73.4 L560.2,73.7 L562.2,74.0 L564.1,74.1 L566.1,74.2 L568.1,74.2 L570.0,74.2 L572.0,74.1 L574.0,73.9 L576.0,73.7 L578.0,73.4 L580.0,73.1 L582.0,72.7 L584.0,72.3 L586.0,71.8 L588.0,71.3 L589.9,70.8 L591.9,70.2 L593.9,69.6 L595.9,69.0 L597.8,68.3 L599.8,67.7 L601.7,67.0 L603.7,66.3 L605.6,65.6 L607.5,64.9 L609.4,64.2 L611.2,63.4 L613.1,62.7 L614.9,62.0 L616.7,61.3 L618.5,60.7 L620.3,60.0" fill="none" stroke="#d25a70" stroke-width="1.6" stroke-linejoin="round" stroke-linecap="round"/>
<path d="M620.3,60.0 L619.7,62.0 L619.1,63.9 L618.4,65.8 L617.8,67.7 L617.1,69.6 L616.3,71.4 L615.5,73.3 L614.8,75.1 L613.9,76.9 L613.1,78.7 L612.2,80.5 L611.3,82.3 L610.4,84.1 L609.4,85.8 L608.5,87.5 L607.5,89.2 L606.4,90.9 L605.4,92.6 L604.3,94.3 L603.2,95.9 L602.1,97.6 L601.0,99.2 L599.8,100.8 L598.6,102.4 L597.4,104.0 L596.2,105.5 L595.0,107.1 L593.7,108.6 L592.4,110.1 L591.1,111.6 L589.8,113.1 L588.5,114.6 L587.1,116.0 L585.7,117.5 L584.3,118.9 L582.9,120.3 L581.5,121.7 L580.0,123.1 L578.6,124.5 L577.1,125.8 L575.6,127.2 L574.1,128.5 L572.6,129.8 L571.0,131.1 L569.5,132.4 L567.9,133.7 L566.3,134.9 L564.7,136.2 L563.1,137.4 L561.5,138.6 L559.9,139.8 L558.3,141.0 L556.6,142.2 L554.9,143.4 L553.3,144.5 L551.6,145.7 L549.9,146.8 L548.2,147.9 L546.5,149.0 L544.8,150.1 L543.0,151.2 L541.3,152.2 L539.6,153.3 L537.8,154.3 L536.1,155.3 L534.3,156.3 L532.5,157.3 L530.8,158.3 L529.0,159.3 L527.2,160.2 L525.4,161.2 L523.6,162.1 L521.8,163.0 L520.0,163.9 L518.2,164.8 L516.4,165.7 L514.6,166.6 L512.8,167.4 L511.0,168.3 L509.1,169.1 L507.3,169.9 L505.5,170.8 L503.6,171.6 L501.8,172.4 L500.0,173.1 L498.1,173.9 L496.3,174.7 L494.4,175.4 L492.6,176.2 L490.7,176.9 L488.8,177.6 L487.0,178.4 L485.1,179.1 L483.2,179.8 L481.4,180.5 L479.5,181.2 L477.6,181.8 L475.7,182.5 L473.8,183.2 L472.0,183.8 L470.1,184.5 L468.2,185.1 L466.3,185.7 L464.4,186.4 L462.5,187.0 L460.6,187.6 L458.7,188.2 L456.8,188.8 L454.9,189.4 L453.0,190.0 L451.1,190.6 L449.1,191.2 L447.2,191.8 L445.3,192.3 L443.4,192.9 L441.5,193.5 L439.6,194.0 L437.6,194.6 L435.7,195.1 L433.8,195.7 L431.9,196.2 L429.9,196.8 L428.0,197.3 L426.1,197.8 L424.1,198.4 L422.2,198.9 L420.3,199.4 L418.3,200.0 L416.4,200.5 L414.5,201.0 L412.5,201.5 L410.6,202.1 L408.7,202.6 L406.7,203.1 L404.8,203.6 L402.9,204.1 L400.9,204.7 L399.0,205.2 L397.0,205.7 L395.1,206.2 L393.2,206.7 L391.2,207.2 L389.3,207.8 L387.3,208.3 L385.4,208.8 L383.5,209.3 L381.5,209.9 L379.6,210.4 L377.6,210.9 L375.7,211.4 L373.8,212.0 L371.8,212.5 L369.9,213.1 L368.0,213.6 L366.0,214.1 L364.1,214.7 L362.2,215.2 L360.2,215.8 L358.3,216.3 L356.4,216.9 L354.4,217.5 L352.5,218.0 L350.6,218.6 L348.7,219.2 L346.7,219.8 L344.8,220.4 L342.9,221.0 L341.0,221.6 L339.0,222.2 L337.1,222.8 L335.2,223.4 L333.3,224.0 L331.4,224.6 L329.5,225.3 L327.6,225.9 L325.7,226.5 L323.7,227.2 L321.8,227.8 L319.9,228.5 L318.0,229.1 L316.1,229.8 L314.2,230.5 L312.3,231.1 L310.4,231.8 L308.5,232.5 L306.6,233.2 L304.8,233.9 L302.9,234.5 L301.0,235.2 L299.1,235.9 L297.2,236.6 L295.3,237.3 L293.4,238.1 L291.6,238.8 L289.7,239.5 L287.8,240.2 L285.9,241.0 L284.1,241.7 L282.2,242.4 L280.3,243.2 L278.4,243.9 L276.6,244.7 L274.7,245.4 L272.8,246.2 L271.0,247.0 L269.1,247.7 L267.3,248.5 L265.4,249.3 L263.6,250.0 L261.7,250.8 L259.9,251.6 L258.0,252.4 L256.2,253.2 L254.3,254.0 L252.5,254.8 L250.6,255.6 L248.8,256.4 L247.0,257.2 L245.2,258.1 L243.3,258.9 L241.5,259.8 L239.7,260.7 L238.0,261.6 L236.2,262.5 L234.5,263.5 L232.8,264.5 L231.1,265.6 L229.5,266.7 L227.9,267.8 L226.3,269.0 L224.8,270.3 L223.3,271.6 L221.9,273.0 L220.5,274.5 L219.1,275.9 L217.8,277.5 L216.5,279.0 L215.2,280.6 L214.0,282.2 L212.7,283.9 L211.5,285.5 L210.3,287.2 L209.2,288.9 L208.0,290.6 L206.8,292.3 L205.7,294.0 L204.5,295.7 L203.4,297.4 L202.3,299.0 L201.1,300.7 L200.0,302.3 L198.9,304.0 L197.7,305.6 L196.6,307.3 L195.5,308.9 L194.4,310.6 L193.3,312.2 L192.2,313.9 L191.1,315.5 L190.0,317.2 L189.0,318.8 L187.9,320.5 L186.9,322.2 L185.8,323.8 L184.8,325.5 L183.8,327.2 L182.8,329.0 L181.8,330.7 L180.8,332.4 L179.8,334.2 L178.9,336.0 L177.9,337.8 L177.0,339.6 L176.1,341.5 L175.2,343.3 L174.3,345.2 L173.4,347.1 L172.6,349.0 L171.7,350.9 L170.8,352.8 L170.0,354.8 L169.1,356.7 L168.3,358.6 L167.4,360.5 L166.6,362.4 L165.8,364.2 L164.9,366.1 L164.0,367.9 L163.2,369.7 L162.3,371.5 L161.4,373.2 L160.5,375.0 L159.6,376.6 L158.7,378.3 L157.8,379.9 L156.8,381.4 L155.9,382.9 L154.9,384.4 L153.9,385.7 L152.9,387.1 L151.8,388.2 L150.6,388.8" fill="none" stroke="#d25a70" stroke-width="1.6" stroke-linejoin="round" stroke-linecap="round"/>
<path d="M151.6,360.0 L152.1,358.1 L152.5,356.2 L153.0,354.2 L153.5,352.3 L154.0,350.4 L154.5,348.5 L155.0,346.5 L155.5,344.6 L156.1,342.7 L156.6,340.8 L157.2,338.8 L157.8,336.9 L158.3,335.0 L158.9,333.0 L159.5,331.1 L160.1,329.2 L160.8,327.3 L161.4,325.3 L162.0,323.4 L162.7,321.5 L163.4,319.6 L164.1,317.7 L164.8,315.8 L165.5,313.9 L166.2,312.0 L167.0,310.1 L167.7,308.2 L168.5,306.3 L169.3,304.5 L170.1,302.6 L170.9,300.7 L171.7,298.9 L172.5,297.1 L173.4,295.2 L174.3,293.4 L175.2,291.6 L176.1,289.8 L177.0,288.0 L177.9,286.2 L178.9,284.4 L179.9,282.7 L180.9,280.9 L181.9,279.2 L182.9,277.4 L184.0,275.7 L185.0,274.0 L186.1,272.3 L187.2,270.7 L188.3,269.0 L189.5,267.4 L190.6,265.7 L191.8,264.1 L193.0,262.5 L194.2,260.9 L195.5,259.4 L196.7,257.8 L198.0,256.3 L199.3,254.8 L200.6,253.3 L202.0,251.8 L203.4,250.3 L204.7,248.9 L206.1,247.5 L207.6,246.0 L209.0,244.7 L210.5,243.3 L212.0,241.9 L213.4,240.6 L215.0,239.3 L216.5,237.9 L218.0,236.7 L219.6,235.4 L221.2,234.1 L222.8,232.9 L224.4,231.7 L226.0,230.4 L227.6,229.3 L229.3,228.1 L230.9,226.9 L232.6,225.8 L234.3,224.7 L236.0,223.5 L237.7,222.4 L239.4,221.4 L241.1,220.3 L242.9,219.2 L244.6,218.2 L246.4,217.2 L248.1,216.2 L249.9,215.2 L251.7,214.2 L253.5,213.3 L255.3,212.3 L257.1,211.4 L258.9,210.5 L260.7,209.6 L262.5,208.7 L264.3,207.8 L266.1,207.0 L268.0,206.1 L269.8,205.3 L271.6,204.5 L273.5,203.7 L275.3,202.9 L277.2,202.2 L279.0,201.4 L280.9,200.7 L282.7,199.9 L284.6,199.2 L286.4,198.5 L288.3,197.8 L290.2,197.1 L292.0,196.5 L293.9,195.8 L295.8,195.1 L297.7,194.5 L299.6,193.9 L301.5,193.3 L303.3,192.7 L305.2,192.1 L307.1,191.5 L309.0,190.9 L311.0,190.3 L312.9,189.8 L314.8,189.2 L316.7,188.7 L318.6,188.2 L320.5,187.6 L322.4,187.1 L324.4,186.6 L326.3,186.1 L328.2,185.6 L330.2,185.1 L332.1,184.7 L334.1,184.2 L336.0,183.7 L337.9,183.3 L339.9,182.8 L341.9,182.4 L343.8,181.9 L345.8,181.5 L347.7,181.1 L349.7,180.6 L351.7,180.2 L353.6,179.8 L355.6,179.4 L357.6,179.0 L359.6,178.6 L361.6,178.2 L363.5,177.8 L365.5,177.4 L367.5,177.0 L369.5,176.6 L371.5,176.2 L373.5,175.9 L375.5,175.5 L377.5,175.1 L379.5,174.7 L381.5,174.4 L383.6,174.0 L385.6,173.6 L387.6,173.2 L389.6,172.9 L391.6,172.5 L393.7,172.1 L395.7,171.8 L397.7,171.4 L399.8,171.0 L401.8,170.6 L403.8,170.2 L405.8,169.8 L407.9,169.4 L409.9,169.0 L411.9,168.6 L413.9,168.1 L415.9,167.7 L417.8,167.2 L419.8,166.7 L421.8,166.2 L423.7,165.7 L425.7,165.1 L427.6,164.6 L429.5,164.0 L431.4,163.4 L433.3,162.7 L435.1,162.1 L437.0,161.4 L438.8,160.7 L440.6,159.9 L442.4,159.2 L444.1,158.4 L445.9,157.5 L447.6,156.6 L449.3,155.7 L450.9,154.8 L452.6,153.8 L454.2,152.8 L455.8,151.7 L457.3,150.6 L458.9,149.5 L460.4,148.3 L461.8,147.1 L463.3,145.8 L464.7,144.5 L466.0,143.1 L467.3,141.7 L468.6,140.2 L469.9,138.7 L471.1,137.1 L472.3,135.5 L473.5,133.8 L474.6,132.1 L475.7,130.4 L476.7,128.6 L477.8,126.8 L478.8,125.0 L479.7,123.1 L480.7,121.2 L481.6,119.3 L482.5,117.4 L483.3,115.4 L484.2,113.5 L485.0,111.5 L485.8,109.5 L486.6,107.6 L487.4,105.6 L488.1,103.6 L488.8,101.6 L489.5,99.7 L490.2,97.7 L490.9,95.8 L491.6,93.8 L492.2,91.9 L492.9,90.0 L493.5,88.2 L494.1,86.3 L494.7,84.5 L495.4,82.7 L496.0,80.9 L496.6,79.1 L497.3,77.3 L497.9,75.6 L498.6,73.8 L499.4,72.0 L500.1,70.3 L500.9,68.5 L501.7,66.7 L502.6,65.0 L503.5,63.2 L504.5,61.4 L505.6,59.5 L506.7,57.7 L507.9,55.9 L509.1,54.1 L510.4,52.4 L511.8,50.7 L513.3,49.2 L514.8,47.7 L516.4,46.4 L518.1,45.3 L519.8,44.4 L521.7,43.7 L523.5,43.2 L525.3,42.8 L527.1,42.7 L528.9,42.8 L530.6,43.1 L532.3,43.6 L533.9,44.2 L535.5,44.9 L537.0,45.8 L538.5,46.9 L540.0,48.0 L541.5,49.3 L542.9,50.7 L544.4,52.1 L545.8,53.6 L547.2,55.2 L548.6,56.8 L549.9,58.5 L551.3,60.2 L552.7,61.9 L554.1,63.7 L555.5,65.4 L556.9,67.1 L558.3,68.8 L559.7,70.4 L561.2,72.0 L562.6,73.5 L564.1,75.0 L565.6,76.4 L567.2,77.7 L568.8,78.8 L570.4,79.9 L572.1,80.9 L573.8,81.8 L575.5,82.5 L577.2,83.2 L579.0,83.8 L580.8,84.3 L582.7,84.7 L584.5,85.1 L586.4,85.3 L588.3,85.5 L590.2,85.6 L592.1,85.7 L594.1,85.7 L596.0,85.6 L598.0,85.5 L600.0,85.3 L602.0,85.1 L604.0,84.8 L606.1,84.5 L608.1,84.1 L610.1,83.7 L612.1,83.3 L614.2,82.8 L616.2,82.3 L618.3,81.8 L620.3,81.3" fill="none" stroke="#1f7259" stroke-width="2.1" stroke-linejoin="round" stroke-linecap="round"/>
<path d="M620.3,81.3 L619.7,83.3 L619.0,85.3 L618.2,87.2 L617.5,89.1 L616.6,91.0 L615.8,92.8 L614.9,94.6 L614.0,96.4 L613.0,98.1 L612.0,99.8 L611.0,101.5 L609.9,103.2 L608.8,104.8 L607.7,106.4 L606.5,107.9 L605.3,109.5 L604.1,111.0 L602.8,112.5 L601.5,114.0 L600.2,115.4 L598.9,116.8 L597.5,118.2 L596.1,119.6 L594.7,121.0 L593.3,122.3 L591.8,123.6 L590.3,124.9 L588.8,126.2 L587.3,127.5 L585.8,128.7 L584.2,130.0 L582.6,131.2 L581.0,132.4 L579.4,133.6 L577.8,134.7 L576.1,135.9 L574.5,137.0 L572.8,138.2 L571.1,139.3 L569.4,140.4 L567.7,141.5 L566.0,142.6 L564.3,143.7 L562.6,144.8 L560.8,145.8 L559.1,146.9 L557.3,147.9 L555.6,149.0 L553.8,150.0 L552.1,151.1 L550.3,152.1 L548.5,153.1 L546.8,154.2 L545.0,155.2 L543.2,156.2 L541.5,157.2 L539.7,158.3 L537.9,159.3 L536.2,160.3 L534.4,161.4 L532.7,162.4 L530.9,163.4 L529.2,164.4 L527.4,165.4 L525.7,166.5 L523.9,167.5 L522.2,168.5 L520.4,169.5 L518.7,170.5 L516.9,171.5 L515.2,172.5 L513.4,173.5 L511.7,174.5 L509.9,175.4 L508.2,176.4 L506.4,177.4 L504.7,178.3 L502.9,179.3 L501.1,180.2 L499.4,181.2 L497.6,182.1 L495.8,183.0 L494.1,183.9 L492.3,184.8 L490.5,185.7 L488.7,186.5 L486.9,187.4 L485.1,188.2 L483.3,189.1 L481.5,189.9 L479.7,190.7 L477.9,191.5 L476.1,192.3 L474.2,193.0 L472.4,193.8 L470.5,194.5 L468.7,195.2 L466.8,195.9 L465.0,196.6 L463.1,197.3 L461.2,198.0 L459.3,198.6 L457.4,199.2 L455.5,199.9 L453.6,200.5 L451.7,201.1 L449.8,201.6 L447.9,202.2 L446.0,202.8 L444.0,203.3 L442.1,203.9 L440.2,204.4 L438.2,204.9 L436.3,205.5 L434.3,206.0 L432.4,206.5 L430.4,207.0 L428.5,207.5 L426.5,208.0 L424.6,208.5 L422.6,208.9 L420.6,209.4 L418.7,209.9 L416.7,210.4 L414.7,210.9 L412.8,211.3 L410.8,211.8 L408.8,212.3 L406.9,212.7 L404.9,213.2 L402.9,213.7 L400.9,214.2 L399.0,214.7 L397.0,215.1 L395.1,215.6 L393.1,216.1 L391.1,216.6 L389.2,217.1 L387.2,217.6 L385.3,218.2 L383.3,218.7 L381.4,219.2 L379.4,219.7 L377.5,220.3 L375.5,220.8 L373.6,221.4 L371.7,221.9 L369.7,222.5 L367.8,223.1 L365.9,223.6 L363.9,224.2 L362.0,224.8 L360.1,225.4 L358.1,226.0 L356.2,226.6 L354.3,227.2 L352.4,227.8 L350.5,228.4 L348.6,229.0 L346.7,229.6 L344.7,230.3 L342.8,230.9 L340.9,231.5 L339.0,232.2 L337.1,232.8 L335.2,233.5 L333.3,234.1 L331.4,234.8 L329.5,235.5 L327.7,236.2 L325.8,236.8 L323.9,237.5 L322.0,238.2 L320.1,238.9 L318.2,239.6 L316.3,240.3 L314.5,241.0 L312.6,241.7 L310.7,242.5 L308.8,243.2 L307.0,243.9 L305.1,244.7 L303.2,245.4 L301.4,246.1 L299.5,246.9 L297.6,247.6 L295.8,248.4 L293.9,249.2 L292.1,249.9 L290.2,250.7 L288.3,251.5 L286.5,252.3 L284.6,253.1 L282.8,253.9 L280.9,254.7 L279.1,255.5 L277.3,256.3 L275.4,257.1 L273.6,257.9 L271.7,258.7 L269.9,259.5 L268.1,260.4 L266.2,261.2 L264.4,262.0 L262.6,262.9 L260.7,263.7 L258.9,264.6 L257.1,265.5 L255.3,266.4 L253.5,267.3 L251.7,268.2 L250.0,269.1 L248.2,270.1 L246.5,271.1 L244.7,272.1 L243.0,273.1 L241.3,274.1 L239.6,275.2 L237.9,276.3 L236.3,277.4 L234.6,278.5 L233.0,279.7 L231.4,280.9 L229.9,282.1 L228.3,283.3 L226.8,284.6 L225.3,285.9 L223.8,287.2 L222.3,288.6 L220.8,289.9 L219.4,291.3 L218.0,292.7 L216.6,294.2 L215.2,295.6 L213.9,297.1 L212.6,298.6 L211.2,300.1 L210.0,301.6 L208.7,303.1 L207.4,304.7 L206.2,306.3 L205.0,307.8 L203.8,309.4 L202.6,311.0 L201.4,312.7 L200.3,314.3 L199.1,315.9 L198.0,317.6 L196.9,319.3 L195.8,321.0 L194.8,322.6 L193.7,324.3 L192.6,326.1 L191.6,327.8 L190.6,329.5 L189.5,331.2 L188.5,333.0 L187.5,334.7 L186.5,336.5 L185.6,338.3 L184.6,340.0 L183.6,341.8 L182.7,343.6 L181.7,345.4 L180.8,347.2 L179.8,349.0 L178.9,350.8 L178.0,352.6 L177.1,354.4 L176.2,356.2 L175.2,358.0 L174.3,359.8 L173.4,361.6 L172.5,363.4 L171.6,365.2 L170.7,367.0 L169.8,368.8 L168.9,370.6 L168.0,372.4 L167.1,374.2 L166.2,376.0 L165.3,377.8 L164.3,379.6 L163.4,381.4 L162.5,383.2 L161.6,384.9 L160.6,386.7 L159.7,388.5 L158.8,390.2 L157.8,392.0 L156.9,393.7 L155.9,395.5 L155.0,397.2 L154.0,398.9 L153.0,400.6 L152.0,402.3 L151.0,404.0" fill="none" stroke="#1f7259" stroke-width="1.9" stroke-linejoin="round" stroke-linecap="round"/>
<rect x="92.8" y="13.5" width="586.3" height="435.9" fill="none" stroke="#161616" stroke-width="2.3"/>
<line x1="151.1" y1="449.4" x2="151.1" y2="440.2" stroke="#161616" stroke-width="2"/>
<line x1="209.5" y1="449.4" x2="209.5" y2="440.2" stroke="#161616" stroke-width="2"/>
<line x1="267.7" y1="449.4" x2="267.7" y2="440.2" stroke="#161616" stroke-width="2"/>
<line x1="327.1" y1="449.4" x2="327.1" y2="440.2" stroke="#161616" stroke-width="2"/>
<line x1="385.4" y1="449.4" x2="385.4" y2="440.2" stroke="#161616" stroke-width="2"/>
<line x1="445.0" y1="449.4" x2="445.0" y2="440.2" stroke="#161616" stroke-width="2"/>
<line x1="504.1" y1="449.4" x2="504.1" y2="440.2" stroke="#161616" stroke-width="2"/>
<line x1="561.9" y1="449.4" x2="561.9" y2="440.2" stroke="#161616" stroke-width="2"/>
<line x1="621.0" y1="449.4" x2="621.0" y2="440.2" stroke="#161616" stroke-width="2"/>
<line x1="92.8" y1="85.3" x2="101.5" y2="85.3" stroke="#161616" stroke-width="2.2"/>
<line x1="92.8" y1="159.8" x2="101.5" y2="159.8" stroke="#161616" stroke-width="2.2"/>
<line x1="92.8" y1="230.8" x2="101.5" y2="230.8" stroke="#161616" stroke-width="2.2"/>
<line x1="92.8" y1="305.1" x2="101.5" y2="305.1" stroke="#161616" stroke-width="2.2"/>
<line x1="92.8" y1="378.0" x2="101.5" y2="378.0" stroke="#161616" stroke-width="2.2"/>
<text transform="translate(90.85,480.40) scale(1.040,1.000)" font-size="25" text-anchor="middle"><tspan dy="-1.3">–</tspan><tspan dy="1.3">1.0</tspan></text>
<text transform="translate(149.40,480.40) scale(1.040,1.000)" font-size="25" text-anchor="middle"><tspan dy="-1.3">–</tspan><tspan dy="1.3">0.8</tspan></text>
<text transform="translate(207.50,480.40) scale(1.040,1.000)" font-size="25" text-anchor="middle"><tspan dy="-1.3">–</tspan><tspan dy="1.3">0.6</tspan></text>
<text transform="translate(265.60,480.40) scale(1.040,1.000)" font-size="25" text-anchor="middle"><tspan dy="-1.3">–</tspan><tspan dy="1.3">0.4</tspan></text>
<text transform="translate(324.40,480.40) scale(1.040,1.000)" font-size="25" text-anchor="middle"><tspan dy="-1.3">–</tspan><tspan dy="1.3">0.2</tspan></text>
<text transform="translate(385.25,480.40) scale(1.040,1.000)" font-size="25" text-anchor="middle">0</text>
<text transform="translate(445.75,480.40) scale(1.040,1.000)" font-size="25" text-anchor="middle">0.2</text>
<text transform="translate(503.90,480.40) scale(1.040,1.000)" font-size="25" text-anchor="middle">0.4</text>
<text transform="translate(562.90,480.40) scale(1.040,1.000)" font-size="25" text-anchor="middle">0.6</text>
<text transform="translate(620.65,480.40) scale(1.040,1.000)" font-size="25" text-anchor="middle">0.8</text>
<text transform="translate(678.35,480.40) scale(1.040,1.000)" font-size="25" text-anchor="middle">1.0</text>
<text transform="translate(83.10,21.20) scale(1.040,1.000)" font-size="25" text-anchor="end">1.0</text>
<text transform="translate(82.40,94.10) scale(1.040,1.000)" font-size="25" text-anchor="end">0.5</text>
<text transform="translate(82.50,167.25) scale(1.040,1.000)" font-size="25" text-anchor="end">0</text>
<text transform="translate(82.80,238.90) scale(1.040,1.000)" font-size="25" text-anchor="end"><tspan dy="-1.3">–</tspan><tspan dy="1.3">0.5</tspan></text>
<text transform="translate(82.80,312.00) scale(1.040,1.000)" font-size="25" text-anchor="end"><tspan dy="-1.3">–</tspan><tspan dy="1.3">1.0</tspan></text>
<text transform="translate(82.80,384.00) scale(1.040,1.000)" font-size="25" text-anchor="end"><tspan dy="-1.3">–</tspan><tspan dy="1.3">1.5</tspan></text>
<text transform="translate(82.50,457.70) scale(1.040,1.000)" font-size="25" text-anchor="end"><tspan dy="-1.3">–</tspan><tspan dy="1.3">2.0</tspan></text>
<text transform="translate(519.80,300.90) scale(1.020,1.000)" font-size="25" text-anchor="start">1–PbS</text>
<text transform="translate(520.80,328.80) scale(1.020,1.000)" font-size="25" text-anchor="start">2–Pb(Bi)S</text>
<text transform="translate(520.80,357.40) scale(1.020,1.000)" font-size="25" text-anchor="start">3–Pb(Sb)S</text>
<text transform="translate(520.80,385.40) scale(1.020,1.000)" font-size="25" text-anchor="start">4–Pb(Zn)S</text>
<text transform="translate(520.80,414.70) scale(1.020,1.000)" font-size="25" text-anchor="start">5–Pb(Ag)S</text>
<text transform="translate(369.05,146.30) scale(1.000,1.000)" font-size="25" text-anchor="start">1</text>
<text transform="translate(403.55,114.90) scale(1.000,1.000)" font-size="25" text-anchor="start">2</text>
<text transform="translate(434.55,92.90) scale(1.000,1.000)" font-size="25" text-anchor="start">1</text>
<text transform="translate(458.25,58.10) scale(1.000,1.000)" font-size="25" text-anchor="start">5</text>
<text transform="translate(540.55,36.20) scale(1.000,1.000)" font-size="25" text-anchor="start">2</text>
<text transform="translate(571.00,46.10) scale(1.000,1.000)" font-size="25" text-anchor="start">3</text>
<text transform="translate(539.95,213.80) scale(1.000,1.000)" font-size="25" text-anchor="start">4</text>
<text x="349.0" y="517.0" font-size="25"><tspan class="cjk">电位</tspan>/V</text>
<text transform="translate(23.5,289.0) rotate(-90)" font-size="25"><tspan class="cjk">电流</tspan>/(1e<tspan font-size="15" dy="-9">−</tspan><tspan font-size="15">5</tspan><tspan dy="9">A)</tspan></text>
<line x1="415.6" y1="117.2" x2="447.0" y2="130.8" stroke="#747474" stroke-width="1.25"/>
<line x1="447.0" y1="96.2" x2="474.3" y2="121.4" stroke="#747474" stroke-width="1.25"/>
<line x1="470.9" y1="56.9" x2="496.7" y2="77.4" stroke="#747474" stroke-width="1.25"/>
<line x1="570.3" y1="44.3" x2="531.4" y2="83.1" stroke="#747474" stroke-width="1.25"/>
<line x1="540.4" y1="194.6" x2="504.2" y2="114.9" stroke="#747474" stroke-width="1.25"/>
<line x1="377.8" y1="153.2" x2="385" y2="157.5" stroke="#3a3a3a" stroke-width="1.9"/>
<polygon points="393.6,162.8 385.7,154.3 382.4,159.6" fill="#111"/>
</svg></body></html>
